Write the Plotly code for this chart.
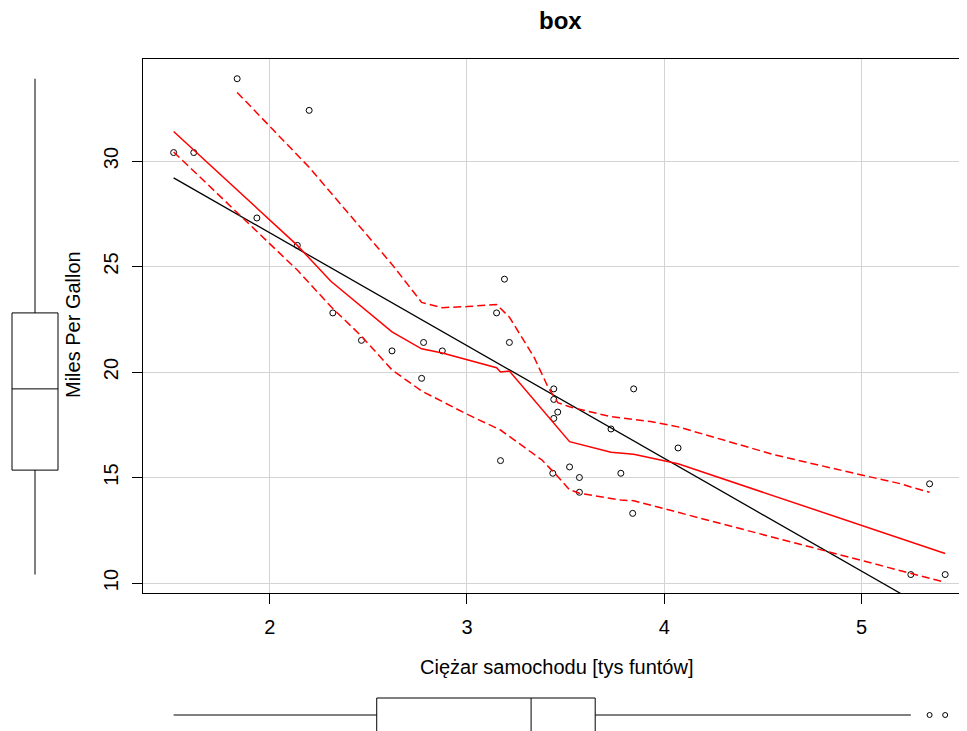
import numpy as np
import plotly.graph_objects as go

# mtcars: weight (1000 lbs) and miles per gallon
wt = [2.620, 2.875, 2.320, 3.215, 3.440, 3.460, 3.570, 3.190, 3.150, 3.440, 3.440,
      4.070, 3.730, 3.780, 5.250, 5.424, 5.345, 2.200, 1.615, 1.835, 2.465, 3.520,
      3.435, 3.840, 3.845, 1.935, 2.140, 1.513, 3.170, 2.770, 3.570, 2.780]
mpg = [21.0, 21.0, 22.8, 21.4, 18.7, 18.1, 14.3, 24.4, 22.8, 19.2, 17.8,
       16.4, 17.3, 15.2, 10.4, 10.4, 14.7, 32.4, 30.4, 33.9, 21.5, 15.5,
       15.2, 13.3, 19.2, 27.3, 26.0, 30.4, 15.8, 19.7, 15.0, 21.4]

# smoother
smooth_x = [1.513, 2.14, 2.31, 2.465, 2.62, 2.77, 2.875, 3.15, 3.17, 3.215, 3.44, 3.52, 3.73, 3.845, 4.07, 5.424]
smooth_y = [31.4, 26.0, 24.3, 23.1, 21.9, 21.1, 20.9, 20.2, 20.0, 20.05, 17.6, 16.7, 16.2, 16.1, 15.65, 11.4]
upper_x = [1.835, 2.2, 2.62, 2.77, 2.875, 3.0, 3.15, 3.215, 3.34, 3.41, 3.46, 3.52, 3.73, 3.93, 4.07, 4.56, 5.0, 5.2, 5.25, 5.345]
upper_y = [33.25, 29.7, 25.1, 23.3, 23.05, 23.1, 23.2, 22.6, 20.7, 19.3, 18.55, 18.35, 17.88, 17.65, 17.4, 16.07, 15.12, 14.7, 14.55, 14.3]
lower_x = [1.513, 2.0, 2.14, 2.31, 2.465, 2.62, 2.77, 2.875, 3.0, 3.17, 3.215, 3.38, 3.46, 3.52, 3.57, 3.78, 3.845, 4.05, 4.19, 5.0, 5.424]
lower_y = [30.43, 26.1, 24.83, 23.1, 21.7, 20.1, 19.1, 18.6, 18.0, 17.25, 16.95, 15.83, 15.05, 14.42, 14.25, 13.93, 13.9, 13.4, 13.07, 11.09, 10.03]

x_ticks = [2, 3, 4, 5]
y_ticks = [10, 15, 20, 25, 30]

title_text = "<b>box</b>"
x_title = "Ciężar samochodu [tys funtów]"
y_title = "Miles Per Gallon"

# page has an 8px body margin; size the figure so it fills the 967x731 window
OFF = 8
W, H = 967 - OFF, 731 - OFF
FONT = "Liberation Sans, Arial, sans-serif"


def px(x):
    return (x - OFF) / W


def py(y):
    return 1 - (y - OFF) / H


# linear regression
b1, b0 = np.polyfit(wt, mpg, 1)
reg_x = [min(wt), max(wt)]
reg_y = [b0 + b1 * v for v in reg_x]

fig = go.Figure()

fig.add_trace(go.Scatter(x=wt, y=mpg, mode="markers",
                         marker=dict(symbol="circle-open", size=6, color="black",
                                     line=dict(width=1, color="black")),
                         showlegend=False, hoverinfo="skip"))
fig.add_trace(go.Scatter(x=reg_x, y=reg_y, mode="lines",
                         line=dict(color="black", width=1.3), showlegend=False))
fig.add_trace(go.Scatter(x=smooth_x, y=smooth_y, mode="lines",
                         line=dict(color="red", width=1.5), showlegend=False))
fig.add_trace(go.Scatter(x=upper_x, y=upper_y, mode="lines",
                         line=dict(color="red", width=1.5, dash="8px,4px"), showlegend=False))
fig.add_trace(go.Scatter(x=lower_x, y=lower_y, mode="lines",
                         line=dict(color="red", width=1.5, dash="8px,4px"), showlegend=False))

# left boxplot (mpg)
fig.add_trace(go.Box(y=mpg, x0=0, xaxis="x2", yaxis="y2", width=46,
                     quartilemethod="exclusive", boxpoints="outliers",
                     line=dict(color="black", width=1), fillcolor="white",
                     whiskerwidth=0, showlegend=False,
                     marker=dict(symbol="circle-open", size=5, color="black")))
# bottom boxplot (wt)
fig.add_trace(go.Box(x=wt, y0=0, xaxis="x3", yaxis="y3", width=34, orientation="h",
                     quartilemethod="exclusive", boxpoints="outliers",
                     line=dict(color="black", width=1), fillcolor="white",
                     whiskerwidth=0, showlegend=False,
                     marker=dict(symbol="circle-open", size=5, color="black",
                                 line=dict(width=1, color="black"))))

x_range = [1.3577, 5.5347]
y_range = [9.526, 34.834]
x_dom = [px(143), 1.0]
y_dom = [py(593), py(59)]

fig.update_layout(
    width=W, height=H,
    margin=dict(l=0, r=0, t=0, b=0),
    paper_bgcolor="white", plot_bgcolor="white",
    font=dict(family=FONT, size=20, color="black"),
    xaxis=dict(domain=x_dom, range=x_range, tickvals=x_ticks, ticks="outside",
               ticklen=10, tickcolor="black", showline=True, linecolor="black",
               linewidth=1.3, mirror=True, showgrid=True, gridcolor="#D3D3D3",
               gridwidth=1, zeroline=False, anchor="y",
               tickfont=dict(size=20), ticklabelstandoff=6),
    yaxis=dict(domain=y_dom, range=y_range, tickvals=y_ticks, ticks="outside",
               ticklen=10, tickcolor="black", showline=True, linecolor="black",
               linewidth=1.3, mirror=False, showgrid=True, gridcolor="#D3D3D3",
               gridwidth=1, zeroline=False, anchor="x", tickangle=-90,
               tickfont=dict(size=20), ticklabelstandoff=6),
    xaxis2=dict(domain=[0, 70 / W], range=[-27, 43], visible=False, anchor="y2"),
    yaxis2=dict(domain=y_dom, range=y_range, visible=False, anchor="x2"),
    xaxis3=dict(domain=x_dom, range=x_range, visible=False, anchor="y3"),
    yaxis3=dict(domain=[0, 51 / H], range=[-16, 35], visible=False, anchor="x3"),
    annotations=[
        dict(text=title_text, x=px(560), y=py(20), xref="paper", yref="paper",
             xanchor="center", yanchor="middle", showarrow=False,
             font=dict(size=24, family=FONT)),
        dict(text=x_title, x=px(556), y=py(667), xref="paper", yref="paper",
             xanchor="center", yanchor="middle", showarrow=False,
             font=dict(size=20, family=FONT)),
        dict(text=y_title, x=px(73), y=py(325), xref="paper", yref="paper",
             xanchor="center", yanchor="middle", showarrow=False, textangle=-90,
             font=dict(size=20, family=FONT)),
    ],
)

fig.write_html("out.html")
